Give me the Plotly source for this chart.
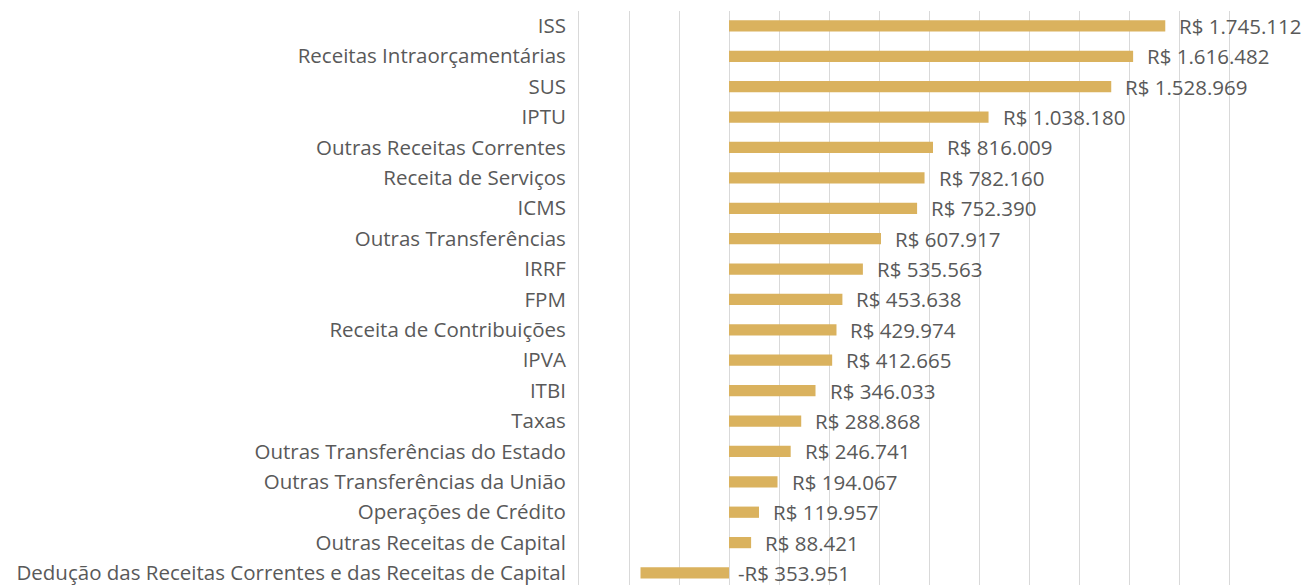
import plotly.graph_objects as go

categories = [
    "ISS", "Receitas Intraorçamentárias", "SUS", "IPTU", "Outras Receitas Correntes",
    "Receita de Serviços", "ICMS", "Outras Transferências", "IRRF", "FPM",
    "Receita de Contribuições", "IPVA", "ITBI", "Taxas", "Outras Transferências do Estado",
    "Outras Transferências da União", "Operações de Crédito", "Outras Receitas de Capital",
    "Dedução das Receitas Correntes e das Receitas de Capital",
]
values = [
    1745112, 1616482, 1528969, 1038180, 816009,
    782160, 752390, 607917, 535563, 453638,
    429974, 412665, 346033, 288868, 246741,
    194067, 119957, 88421,
    -353951,
]

def fmt(v):
    s = f"{abs(v):,}".replace(",", ".")
    return ("-R$ " if v < 0 else "R$ ") + s

# bottom-up order for plotly
cats = categories[::-1]
vals = values[::-1]

BAR = "#DAB25E"
TXT = "#595959"
GRID = "#D9D9D9"
FONT = "Open Sans"
FS = 20.5

fig = go.Figure(go.Bar(
    x=vals, y=cats, orientation="h",
    marker=dict(color=BAR, line=dict(width=0)),
    width=0.37, hoverinfo="x+y",
))

for c, v in zip(cats, vals):
    fig.add_annotation(
        x=max(v, 0), y=c, text=fmt(v), showarrow=False,
        xanchor="left", yanchor="middle", xshift=12 if v > 0 else 7,
        font=dict(family=FONT, size=FS, color=TXT),
    )

# page body adds an 8px margin: figure is sized to fill the rest of the window
fig.update_layout(
    width=1304, height=577,
    margin=dict(l=571, r=83, t=3, b=0),
    plot_bgcolor="white", paper_bgcolor="white",
    showlegend=False,
    font=dict(family=FONT, size=FS, color=TXT),
)
fig.update_xaxes(
    range=[-600000, 2000000], dtick=200000, tick0=0,
    showgrid=True, gridcolor=GRID, gridwidth=1,
    showticklabels=False, zeroline=False, showline=False, ticks="",
)
fig.update_yaxes(
    type="category", range=[-0.395, 18.49],
    showgrid=False, showline=True, linecolor=GRID, linewidth=1, mirror=True,
    ticks="", ticklabelstandoff=8,
    tickfont=dict(family=FONT, size=FS, color=TXT),
)

fig.write_html("out.html")
